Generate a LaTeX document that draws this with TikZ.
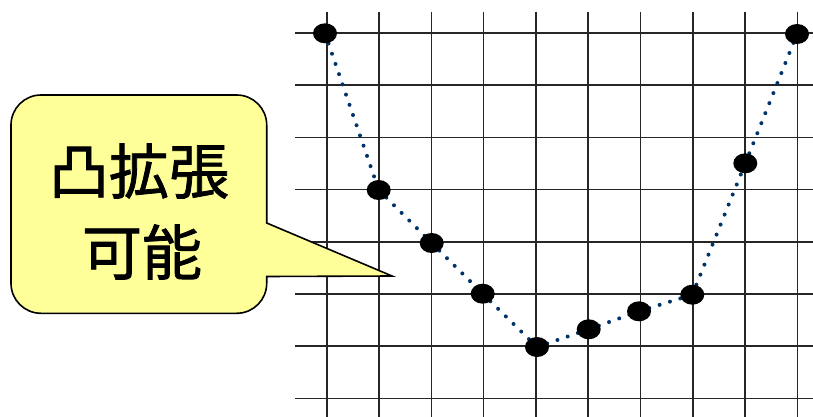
\documentclass[tikz,border=0pt]{standalone}
\usepackage{fontspec}
\usetikzlibrary{shapes.geometric}
\newfontfamily\cjk[FakeBold=1.3]{Noto Sans CJK JP}
\definecolor{dotblue}{HTML}{003366}
\definecolor{callfill}{HTML}{FFFF99}
\begin{document}
\begin{tikzpicture}[x=1pt,y=-1pt,
  gridline/.style={line width=1.6pt,black!85},
  pt/.style={ellipse,fill=black,inner sep=0pt,minimum width=24pt,minimum height=20pt},
  curve/.style={line width=4pt,color=dotblue,dash pattern=on 0pt off 10.8pt,line cap=round},
  callout/.style={line width=1.6pt,draw=black,fill=callfill},
  calltext/.style={font=\cjk\fontsize{60}{60}\selectfont,inner sep=0pt}
]
\useasboundingbox (0,0) rectangle (813,417);
% grid
\foreach \i in {0,...,9} {
  \draw[gridline] ({326.7+52.3*\i},11.7) -- ({326.7+52.3*\i},417);
}
\foreach \j in {0,...,7} {
  \draw[gridline] (295,{33+52.2*\j}) -- (813,{33+52.2*\j});
}
% points
\coordinate (c0) at (325,33.3);
\coordinate (c1) at (378.7,190);
\coordinate (c2) at (431.7,243);
\coordinate (c3) at (482.7,293.7);
\coordinate (c4) at (537,347);
\coordinate (c5) at (588.7,329.3);
\coordinate (c6) at (639,311.3);
\coordinate (c7) at (692.3,294.7);
\coordinate (c8) at (745.3,163.3);
\coordinate (c9) at (797,34);
\draw[curve] (c0) -- (c1);
\draw[curve] (c1) -- (c2);
\draw[curve] (c2) -- (c3);
\draw[curve] (c3) -- (c4);
\draw[curve] (c4) -- (c5);
\draw[curve] (c5) -- (c6);
\draw[curve] (c6) -- (c7);
\draw[curve] (c7) -- (c8);
\draw[curve] (c8) -- (c9);
\foreach \k in {0,...,9} {
  \node[pt] (p\k) at (c\k) {};
}
% callout
\draw[callout] (11,125) arc[start angle=180,end angle=270,radius=30]
  -- (236.7,95) arc[start angle=270,end angle=360,radius=30]
  -- (266.7,223) -- (392,276) -- (266.7,276.5) -- (266.7,283.3)
  arc[start angle=0,end angle=90,radius=30]
  -- (41,313.3) arc[start angle=90,end angle=180,radius=30] -- cycle;
\node[calltext] (t1) at (139,171) {凸拡張};
\node[calltext] (t2) at (142,252) {可能};
\end{tikzpicture}
\end{document}
